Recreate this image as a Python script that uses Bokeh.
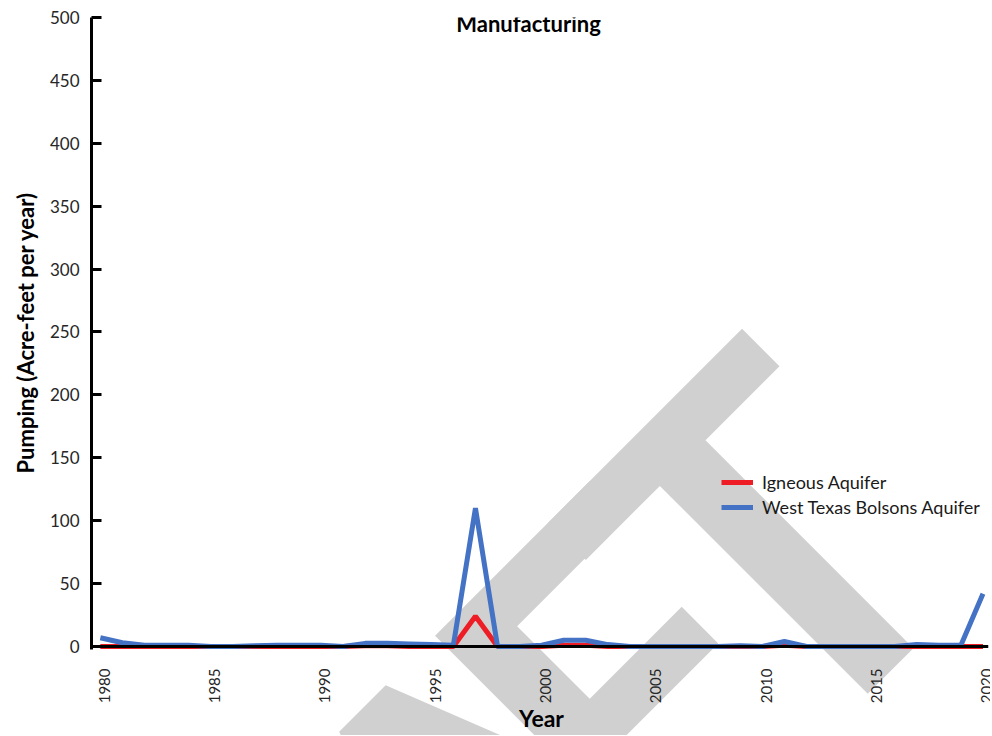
import math
from bokeh.plotting import figure
from bokeh.models import Span, Label, Legend, LegendItem, FixedTicker, Range1d, Title
from bokeh.core.properties import value
from bokeh.embed import file_html
from bokeh.resources import INLINE

# ---------------- data ----------------
years = list(range(1980, 2021))
igneous = [0, 0, 0, 0, 0, 0, 0, 0, 0, 0,
           0, 0, 0.5, 0.5, 0, 0, 0, 24, 0, 0,
           0, 1, 1, 0, 0, 0, 0, 0, 0, 0,
           0, 1, 0, 0, 0, 0, 0, 0, 0, 0,
           0]
bolsons = [7, 3, 1, 1, 1, 0, 0, 0.5, 1, 1,
           1, 0, 2.5, 2.5, 2, 1.5, 1, 110, 0, 0,
           1, 5, 5, 1.5, 0, 0, 0, 0, 0, 0.5,
           0, 4, 0, 0, 0, 0, 0, 1.5, 1, 1,
           42]
series_names = ["Igneous Aquifer", "West Texas Bolsons Aquifer"]
series_colors = ["#EE1D25", "#4472C4"]
y_ticks = list(range(0, 501, 50))
x_ticks = list(range(1980, 2021, 5))
x_tick_labels = [str(t) for t in x_ticks]
title_text = "Manufacturing"
x_title = "Year"
y_title = "Pumping (Acre-feet per year)"
watermark = "DRAFT"

FONT = "Lato"
W, H = 990, 735
X0, X1 = 1979.6, 2020.25
Y1 = 500
Y0 = -70.75          # plot area extends under the year labels

p = figure(width=W, height=H, output_backend="svg", toolbar_location=None,
           x_range=Range1d(X0, X1), y_range=Range1d(Y0, Y1),
           x_axis_location=None,
           min_border_left=91, min_border_right=2, min_border_top=17,
           min_border_bottom=0)
p.background_fill_color = "white"
p.border_fill_color = "white"
p.outline_line_color = None
p.xgrid.visible = False
p.ygrid.visible = False

# watermark, beneath the lines and axis text
wm_font = 480
step = 200
t_anchor = (667.5, 196.0)        # screen units in the plot area
d = math.cos(math.pi / 4)
n = len(watermark)
for i, ch in enumerate(watermark):
    k = i - (n - 1)
    p.add_layout(Label(x=t_anchor[0] + k * step * d, y=t_anchor[1] + k * step * d,
                       x_units="screen", y_units="screen", text=ch,
                       angle=math.pi / 4, text_align="center",
                       text_baseline="alphabetic", text_font=FONT,
                       text_font_style="bold", text_font_size=f"{wm_font}px",
                       text_color="#D0D0D0", level="annotation"))

# zero line (category axis)
p.add_layout(Span(location=0, dimension="width", line_color="black",
                  line_width=3, level="overlay"))

renderers = []
for vals, name, col in zip([igneous, bolsons], series_names, series_colors):
    r = p.line(years, vals, line_color=col, line_width=5, level="overlay")
    renderers.append((name, r))

# year tick labels, rotated
p.text(x=x_ticks, y=[0] * len(x_ticks), text=x_tick_labels, angle=math.pi / 2,
       text_align="right", text_baseline="middle", x_offset=4, y_offset=22,
       text_font=value(FONT), text_font_size="15px", text_color="#262626",
       level="overlay")

legend = Legend(items=[LegendItem(label=nm, renderers=[r]) for nm, r in renderers],
                location=(630, 217), padding=0, margin=0, spacing=3,
                glyph_width=32, glyph_height=20, label_height=20,
                label_standoff=9, label_text_font=FONT,
                label_text_font_size="18px", label_text_color="#1a1a1a",
                border_line_color=None, background_fill_alpha=0)
p.add_layout(legend, "center")

# title inside plot
p.add_layout(Label(x=437, y=712, x_units="screen", y_units="screen",
                   text=title_text, text_align="center", text_baseline="alphabetic",
                   text_font=FONT, text_font_style="bold",
                   text_font_size="22px", text_color="black"))

# x axis title
p.add_layout(Label(x=450, y=18, x_units="screen", y_units="screen",
                   text=x_title, text_align="center", text_baseline="alphabetic",
                   text_font=FONT, text_font_style="bold",
                   text_font_size="23px", text_color="black"))

# y axis
ya = p.yaxis[0]
ya.level = "overlay"
ya.bounds = (-2, 500)
ya.ticker = FixedTicker(ticks=y_ticks)
ya.axis_line_width = 3
ya.axis_line_color = "black"
ya.major_tick_in = 10
ya.major_tick_out = 0
ya.major_tick_line_width = 3
ya.major_tick_line_color = "black"
ya.minor_tick_line_color = None
ya.major_label_standoff = 12
ya.major_label_text_font = FONT
ya.major_label_text_font_size = "17px"
ya.major_label_text_color = "#262626"

# y axis title, centred on the 0-500 scale
p.add_layout(Title(text=y_title, align="left", offset=262, standoff=16,
                   text_font=FONT, text_font_style="bold",
                   text_font_size="22px", text_color="black"), "left")

open("out.html", "w").write(file_html(p, INLINE))
